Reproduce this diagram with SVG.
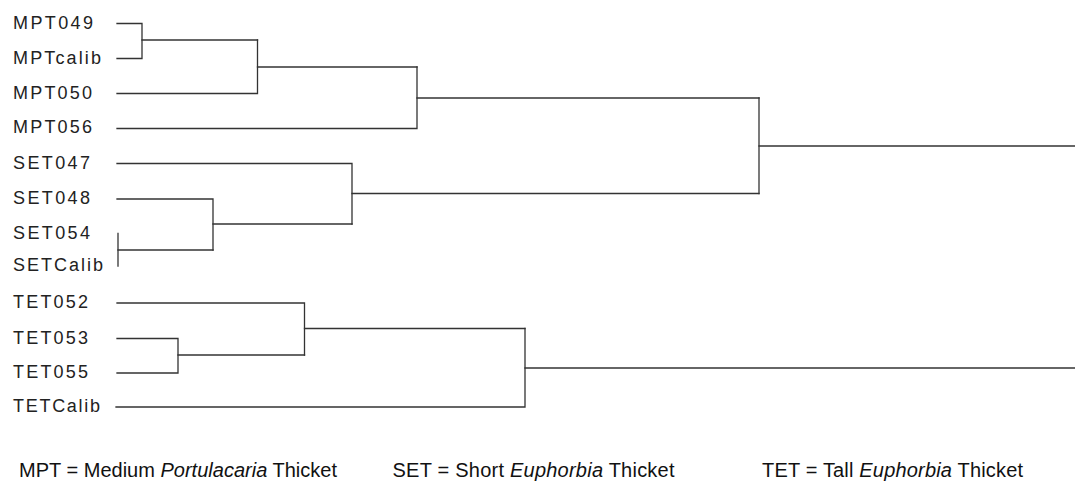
<svg xmlns="http://www.w3.org/2000/svg" width="1075" height="482" viewBox="0 0 1075 482">
  <style>
    .leaf { font-family: "Liberation Sans", Arial, sans-serif; font-size: 18px; fill: #222; }
    .legend { font-family: "Liberation Sans", Arial, sans-serif; font-size: 20px; fill: #111; }
    .legend .it { font-style: italic; }
    .br { fill: none; stroke: #333333; stroke-width: 1.3; stroke-linecap: square; }
  </style>
  <rect width="1075" height="482" fill="#ffffff"/>

  <!-- leaf labels -->
  <g id="MPT049"><text class="leaf" x="13" y="28.5" textLength="80" lengthAdjust="spacing">MPT049</text></g>
  <g id="MPTcalib"><text class="leaf" x="13" y="63.5" textLength="88" lengthAdjust="spacing">MPTcalib</text></g>
  <g id="MPT050"><text class="leaf" x="13" y="98.5" textLength="79" lengthAdjust="spacing">MPT050</text></g>
  <g id="MPT056"><text class="leaf" x="13" y="133" textLength="79" lengthAdjust="spacing">MPT056</text></g>
  <g id="SET047"><text class="leaf" x="13" y="168.5" textLength="77" lengthAdjust="spacing">SET047</text></g>
  <g id="SET048"><text class="leaf" x="13" y="204" textLength="77" lengthAdjust="spacing">SET048</text></g>
  <g id="SET054"><text class="leaf" x="13" y="239" textLength="77" lengthAdjust="spacing">SET054</text></g>
  <g id="SETCalib"><text class="leaf" x="13" y="271" textLength="90" lengthAdjust="spacing">SETCalib</text></g>
  <g id="TET052"><text class="leaf" x="13" y="308" textLength="75" lengthAdjust="spacing">TET052</text></g>
  <g id="TET053"><text class="leaf" x="13" y="343.5" textLength="75" lengthAdjust="spacing">TET053</text></g>
  <g id="TET055"><text class="leaf" x="13" y="378" textLength="75" lengthAdjust="spacing">TET055</text></g>
  <g id="TETCalib"><text class="leaf" x="13" y="412" textLength="87" lengthAdjust="spacing">TETCalib</text></g>

  <!-- dendrogram branches -->
  <g id="connectors" class="br">
    <!-- MPT cluster -->
    <path d="M117,23.5 H142 V58.5 H117"/>
    <path d="M142,40 H257.5"/>
    <path d="M117,93.5 H257.5 V40"/>
    <path d="M257.5,67 H417"/>
    <path d="M117,128.5 H417 V67"/>
    <path d="M417,98 H759"/>
    <!-- SET cluster -->
    <path d="M118,233.5 V266"/>
    <path d="M118,250 H213"/>
    <path d="M117,199 H213 V250"/>
    <path d="M213,224 H352"/>
    <path d="M117,163.5 H352 V224"/>
    <path d="M352,193.5 H759"/>
    <!-- MPT + SET join -->
    <path d="M759,98 V193.5"/>
    <path d="M759,146 H1075"/>
    <!-- TET cluster -->
    <path d="M117,338.5 H178 V373 H117"/>
    <path d="M178,355 H304.5"/>
    <path d="M117,303 H304.5 V355"/>
    <path d="M304.5,328.5 H525"/>
    <path d="M116,407 H525 V328.5"/>
    <path d="M525,368 H1075"/>
  </g>

  <!-- legend -->
  <g id="legend">
    <text class="legend" x="19" y="477" textLength="318" lengthAdjust="spacing">MPT = Medium <tspan class="it">Portulacaria</tspan> Thicket</text>
    <text class="legend" x="392.5" y="477" textLength="282" lengthAdjust="spacing">SET = Short <tspan class="it">Euphorbia</tspan> Thicket</text>
    <text class="legend" x="762" y="477" textLength="261" lengthAdjust="spacing">TET = Tall <tspan class="it">Euphorbia</tspan> Thicket</text>
  </g>
</svg>
